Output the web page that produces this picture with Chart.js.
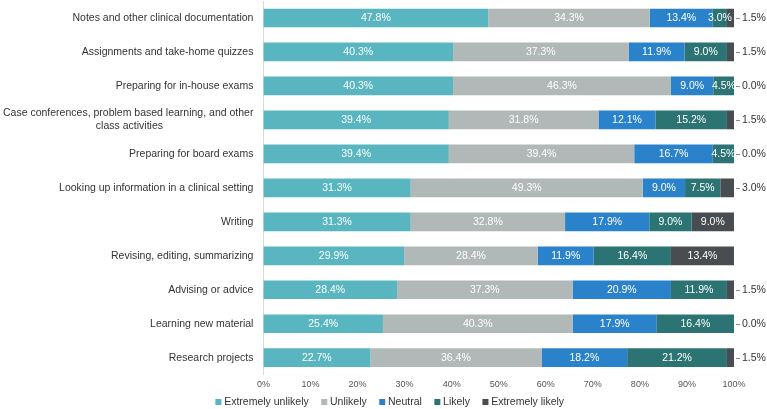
<!DOCTYPE html>
<html>
<head>
<meta charset="utf-8">
<script src="https://cdn.jsdelivr.net/npm/chart.js@4/dist/chart.umd.min.js"></script>
<style>
  html, body { margin: 0; padding: 0; background: #fff; }
  #wrap { width: 767px; height: 409px; }
</style>
</head>
<body>
<div id="wrap"><canvas id="likertChart"></canvas></div>
<script>
// Data
const activities = [
  'Notes and other clinical documentation',
  'Assignments and take-home quizzes',
  'Preparing for in-house exams',
  ['Case conferences, problem based learning, and other', 'class activities                               '],
  'Preparing for board exams',
  'Looking up information in a clinical setting',
  'Writing',
  'Revising, editing, summarizing',
  'Advising or advice',
  'Learning new material',
  'Research projects'
];
const extremelyUnlikely = [47.8, 40.3, 40.3, 39.4, 39.4, 31.3, 31.3, 29.9, 28.4, 25.4, 22.7];
const unlikely          = [34.3, 37.3, 46.3, 31.8, 39.4, 49.3, 32.8, 28.4, 37.3, 40.3, 36.4];
const neutral           = [13.4, 11.9, 9.0, 12.1, 16.7, 9.0, 17.9, 11.9, 20.9, 17.9, 18.2];
const likely            = [3.0, 9.0, 4.5, 15.2, 4.5, 7.5, 9.0, 16.4, 11.9, 16.4, 21.2];
const extremelyLikely   = [1.5, 1.5, 0.0, 1.5, 0.0, 3.0, 9.0, 13.4, 1.5, 0.0, 1.5];
const xTicks = [0, 10, 20, 30, 40, 50, 60, 70, 80, 90, 100];

const FONT = '"Liberation Sans", Arial, sans-serif';
const LEGEND_PAD = 15;
const LEGEND_SIZE = 10.5;

// Segment labels: white inside, small "extremely likely" values outside with a leader
const segmentLabels = {
  id: 'segmentLabels',
  afterDatasetsDraw(chart) {
    const ctx = chart.ctx;
    const xScale = chart.scales.x;
    ctx.save();
    ctx.font = '10.5px ' + FONT;
    ctx.textBaseline = 'middle';
    chart.data.datasets.forEach((ds, di) => {
      const meta = chart.getDatasetMeta(di);
      if (meta.hidden) return;
      meta.data.forEach((bar, i) => {
        const v = ds.data[i];
        const txt = v.toFixed(1) + '%';
        if (di === 4 && v < 5) {
          const x0 = xScale.getPixelForValue(100);
          ctx.strokeStyle = '#8a8a8a';
          ctx.lineWidth = 1;
          ctx.beginPath();
          ctx.moveTo(x0 + 2, Math.round(bar.y) + 0.5);
          ctx.lineTo(x0 + 6, Math.round(bar.y) + 0.5);
          ctx.stroke();
          ctx.fillStyle = '#333';
          ctx.textAlign = 'left';
          ctx.fillText(txt, x0 + 8, bar.y);
        } else {
          ctx.fillStyle = '#fff';
          ctx.textAlign = 'center';
          ctx.fillText(txt, (bar.x + bar.base) / 2, bar.y);
        }
      });
    });
    ctx.restore();
  }
};

// pull the legend up so it sits just under the percent ticks
const legendNudge = {
  id: 'legendNudge',
  afterLayout(chart) {
    const lg = chart.legend;
    const h = lg.bottom - lg.top;
    lg.top = 402 - LEGEND_PAD - LEGEND_SIZE / 2;
    lg.bottom = lg.top + h;
  }
};

const ctx = document.getElementById('likertChart');
new Chart(ctx, {
  type: 'bar',
  data: {
    labels: activities,
    datasets: [
      { label: 'Extremely unlikely', data: extremelyUnlikely, backgroundColor: '#59b5bf' },
      { label: 'Unlikely', data: unlikely, backgroundColor: '#b0b8b8' },
      { label: 'Neutral', data: neutral, backgroundColor: '#2a82cb' },
      { label: 'Likely', data: likely, backgroundColor: '#2c7373' },
      { label: 'Extremely likely', data: extremelyLikely, backgroundColor: '#474d50' }
    ]
  },
  options: {
    indexAxis: 'y',
    responsive: true,
    maintainAspectRatio: false,
    animation: false,
    datasets: {
      bar: {
        categoryPercentage: 1,
        barPercentage: 0.55,
        borderWidth: 0
      }
    },
    layout: { padding: { top: 1, right: -22, left: -7, bottom: -20 } },
    scales: {
      x: {
        stacked: true,
        min: 0,
        max: 100,
        afterBuildTicks: axis => { axis.ticks = xTicks.map(v => ({ value: v })); },
        afterFit: axis => {
          axis.paddingRight = 33;
          axis.paddingLeft = 0;
        },
        grid: { display: false, drawTicks: false },
        border: { display: false },
        ticks: {
          padding: 4,
          color: '#555',
          maxRotation: 0,
          font: { family: FONT, size: 9 },
          callback: v => v + '%'
        }
      },
      y: {
        stacked: true,
        afterFit: axis => {
          axis.paddingTop = 0;
          axis.paddingBottom = 0;
        },
        grid: { display: false, drawTicks: false },
        border: { display: true, color: '#d9d9d9' },
        ticks: {
          padding: 10,
          color: '#333',
          autoSkip: false,
          font: { family: FONT, size: 10.5, lineHeight: 1.25 }
        }
      }
    },
    plugins: {
      legend: {
        position: 'bottom',
        labels: {
          usePointStyle: true,
          pointStyle: 'rect',
          boxWidth: 1,
          boxHeight: 6,
          padding: LEGEND_PAD,
          color: '#333',
          font: { family: FONT, size: LEGEND_SIZE }
        }
      },
      tooltip: { enabled: false }
    }
  },
  plugins: [segmentLabels, legendNudge]
});
</script>
</body>
</html>
